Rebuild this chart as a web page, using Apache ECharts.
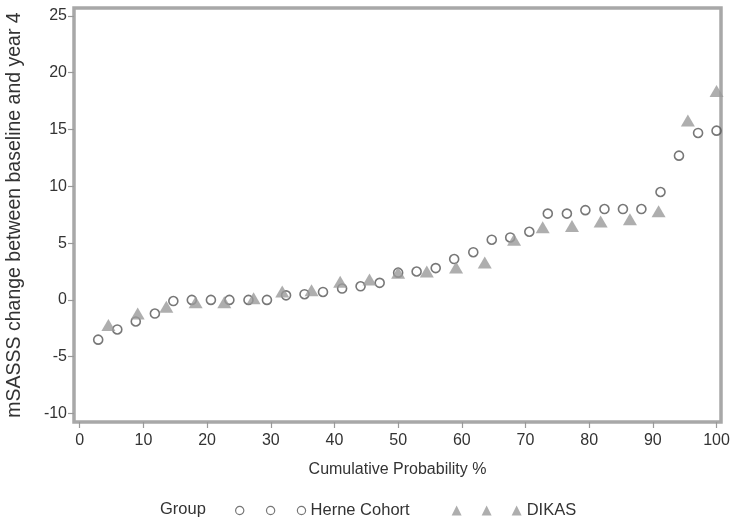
<!DOCTYPE html>
<html>
<head>
<meta charset="utf-8">
<script src="https://cdn.jsdelivr.net/npm/echarts@6/dist/echarts.min.js"></script>
<style>
  html, body { margin: 0; padding: 0; background: #fff; }
  #chart { width: 735px; height: 520px; }
</style>
</head>
<body>
<div id="chart"></div>
<script>
// Cumulative probability (%) and mSASSS change, Herne Cohort
const probHerne = [2.9, 5.9, 8.8, 11.8, 14.7, 17.6, 20.6, 23.5, 26.5, 29.4, 32.4, 35.3, 38.2, 41.2, 44.1, 47.1, 50.0,
  52.9, 55.9, 58.8, 61.8, 64.7, 67.6, 70.6, 73.5, 76.5, 79.4, 82.4, 85.3, 88.2, 91.2, 94.1, 97.1, 100];
const changeHerne = [-3.5, -2.6, -1.9, -1.2, -0.1, 0, 0, 0, 0, 0, 0.4, 0.5, 0.7, 1.0, 1.2, 1.5, 2.4,
  2.5, 2.8, 3.6, 4.2, 5.3, 5.5, 6.0, 7.6, 7.6, 7.9, 8.0, 8.0, 8.0, 9.5, 12.7, 14.7, 14.9];

// Cumulative probability (%) and mSASSS change, DIKAS
const probDikas = [4.5, 9.1, 13.6, 18.2, 22.7, 27.3, 31.8, 36.4, 40.9, 45.5, 50.0, 54.5, 59.1, 63.6, 68.2,
  72.7, 77.3, 81.8, 86.4, 90.9, 95.5, 100];
const changeDikas = [-2.2, -1.2, -0.6, -0.2, -0.2, 0.15, 0.75, 0.85, 1.6, 1.8, 2.4, 2.5, 2.85, 3.3, 5.3,
  6.4, 6.5, 6.9, 7.1, 7.8, 15.8, 18.4];

// Axis tick labels
const xTicks = [0, 10, 20, 30, 40, 50, 60, 70, 80, 90, 100];
const yTicks = [-10, -5, 0, 5, 10, 15, 20, 25];

const FONT = "'Liberation Sans', Arial, sans-serif";
const TEXT = '#333';
const FRAME = '#a8a8a8';
const TICK = '#999';

// Legend icons: three markers in a row
const ringsIcon = 'path://M0,4a4,4 0 1,0 8,0a4,4 0 1,0 -8,0z' +
  'M30,4a4,4 0 1,0 8,0a4,4 0 1,0 -8,0z' +
  'M60,4a4,4 0 1,0 8,0a4,4 0 1,0 -8,0z';
const trianglesIcon = 'path://M5,0L10,10L0,10z M35,0L40,10L30,10z M65,0L70,10L60,10z';

const pairs = (xs, ys) => xs.map((x, i) => [x, ys[i]]);

const chart = echarts.init(document.getElementById('chart'), null, { renderer: 'canvas' });

chart.setOption({
  animation: false,
  textStyle: { fontFamily: FONT },
  title: {
    text: 'Group',
    left: 155,
    top: 496,
    textStyle: { fontFamily: FONT, fontSize: 16.5, fontWeight: 'normal', color: TEXT }
  },
  legend: {
    left: 230,
    top: 497,
    itemWidth: 70,
    itemHeight: 11,
    itemGap: 42,
    textStyle: { fontFamily: FONT, fontSize: 16.5, color: TEXT },
    data: [
      { name: 'Herne Cohort', icon: ringsIcon,
        itemStyle: { color: 'transparent', borderColor: '#555', borderWidth: 1.2 } },
      { name: 'DIKAS', icon: trianglesIcon,
        itemStyle: { color: '#9a9a9a', borderWidth: 0 } }
    ]
  },
  grid: {
    left: 74,
    right: 14,
    top: 8,
    bottom: 98,
    containLabel: false,
    outerBoundsMode: 'none',
    show: true,
    borderColor: FRAME,
    borderWidth: 3.5,
    backgroundColor: '#fff'
  },
  xAxis: {
    type: 'value',
    min: -0.9,
    max: 100.7,
    name: 'Cumulative Probability %',
    nameLocation: 'middle',
    nameGap: 40,
    nameTextStyle: { fontFamily: FONT, fontSize: 16, color: TEXT },
    axisLine: { show: false, onZero: false },
    axisTick: { show: true, length: 6, lineStyle: { color: TICK, width: 1.2 }, customValues: xTicks },
    axisLabel: { fontFamily: FONT, fontSize: 16, color: TEXT, margin: 11, customValues: xTicks },
    splitLine: { show: false }
  },
  yAxis: {
    type: 'value',
    min: -10.75,
    max: 25.7,
    name: 'mSASSS change between baseline and year 4',
    nameLocation: 'middle',
    nameRotate: 90,
    nameGap: 49,
    nameTextStyle: { fontFamily: FONT, fontSize: 19.5, color: TEXT },
    axisLine: { show: false, onZero: false },
    axisTick: { show: true, length: 6, lineStyle: { color: TICK, width: 1.2 }, customValues: yTicks },
    axisLabel: { fontFamily: FONT, fontSize: 16, color: TEXT, margin: 7, customValues: yTicks },
    splitLine: { show: false }
  },
  series: [
    {
      name: 'Herne Cohort',
      type: 'scatter',
      symbol: 'circle',
      symbolSize: 9,
      itemStyle: { color: 'transparent', borderColor: '#555', borderWidth: 1.6 },
      data: pairs(probHerne, changeHerne),
      z: 2
    },
    {
      name: 'DIKAS',
      type: 'scatter',
      symbol: 'triangle',
      symbolSize: [14, 12],
      itemStyle: { color: '#9a9a9a' },
      data: pairs(probDikas, changeDikas),
      z: 3
    }
  ]
});
</script>
</body>
</html>
